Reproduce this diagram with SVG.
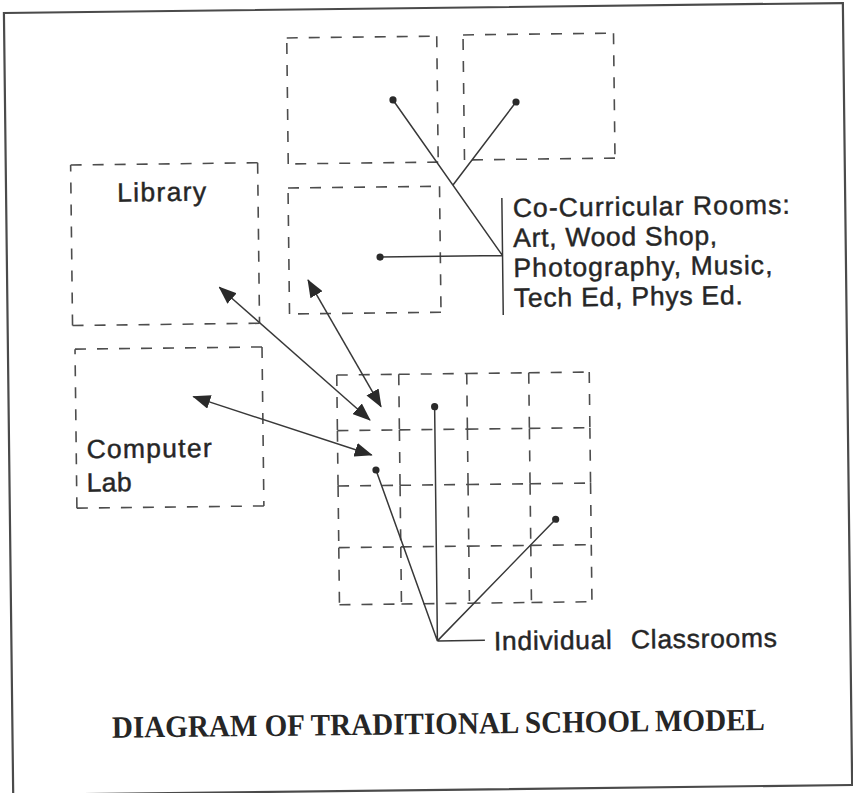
<svg xmlns="http://www.w3.org/2000/svg" width="853" height="793" viewBox="0 0 853 793">
  <defs>
    <style>
      .frame{fill:none;stroke:#4a4a4a;stroke-width:2.2}
      .room{fill:none;stroke:#4d4d4d;stroke-width:1.6;stroke-dasharray:11 11}
      .wire{fill:none;stroke:#383838;stroke-width:1.5}
      .dot{fill:#2a2a2a}
      .lbl{font-family:"Liberation Sans",Arial,sans-serif;font-size:26.5px;fill:#262626;stroke:#262626;stroke-width:0.45}
      .title{font-family:"Liberation Serif","Times New Roman",serif;font-size:31px;font-weight:bold;fill:#262626}
    </style>
    <marker id="head" markerUnits="userSpaceOnUse" markerWidth="18" markerHeight="14" refX="17" refY="7" orient="auto-start-reverse" viewBox="0 0 18 14">
      <path d="M0,0 L18,7 L0,14 z" fill="#2a2a2a"/>
    </marker>
  </defs>
  <rect width="853" height="793" fill="#fff"/>
  <g transform="rotate(-0.68 426 396)">
    <rect class="frame" x="8.5" y="8" width="839" height="782"/>

    <!-- co-curricular rooms -->
    <g id="cocurricular-room-1">
      <path class="room" d="M291 36.3H441M441 36.3V162.3M441 162.3H291M291 162.3V36.3"/>
    </g>
    <g id="cocurricular-room-2">
      <path class="room" d="M467.3 35.4H617.8M617.8 35.4V160.4M617.8 160.4H467.3M467.3 160.4V35.4"/>
    </g>
    <g id="cocurricular-room-3">
      <path class="room" d="M290.5 186.4H442M442 186.4V312.4M442 312.4H290.5M290.5 312.4V186.4"/>
    </g>

    <!-- library -->
    <g id="library">
      <path class="room" d="M73.4 160.8H260.4M260.4 160.8V321.3M260.4 321.3H73.4M73.4 321.3V160.8"/>
      <text class="lbl" x="119.6" y="198" textLength="89">Library</text>
    </g>

    <!-- computer lab -->
    <g id="computer-lab">
      <path class="room" d="M75.6 345H262.6M262.6 345V504M262.6 504H75.6M75.6 504V345"/>
      <text class="lbl" x="86" y="454.3" textLength="125">Computer</text>
      <text class="lbl" x="85.6" y="487.7" textLength="45">Lab</text>
    </g>

    <!-- individual classrooms: 4 x 4 grid -->
    <g id="classrooms">
      <path class="room" d="
        M337 374H399M399 374H467M467 374H529M529 374H589.5
        M337 429.6H399M399 429.6H467M467 429.6H529M529 429.6H589.5
        M337 485H399M399 485H467M467 485H529M529 485H589.5
        M337 546.6H399M399 546.6H467M467 546.6H529M529 546.6H589.5
        M337 603.7H399M399 603.7H467M467 603.7H529M529 603.7H589.5
        M337 374V429.6M337 429.6V485M337 485V546.6M337 546.6V603.7
        M399 374V429.6M399 429.6V485M399 485V546.6M399 546.6V603.7
        M467 374V429.6M467 429.6V485M467 485V546.6M467 546.6V603.7
        M529 374V429.6M529 429.6V485M529 485V546.6M529 546.6V603.7
        M589.5 374V429.6M589.5 429.6V485M589.5 485V546.6M589.5 546.6V603.7"/>
    </g>

    <!-- co-curricular caption -->
    <g id="cocurricular-label">
      <text class="lbl" x="515" y="218" textLength="277">Co-Curricular Rooms:</text>
      <text class="lbl" x="515" y="248" textLength="204">Art, Wood Shop,</text>
      <text class="lbl" x="515" y="278" textLength="259">Photography, Music,</text>
      <text class="lbl" x="515" y="308" textLength="229">Tech Ed, Phys Ed.</text>
    </g>

    <!-- classrooms caption -->
    <g id="classrooms-label">
      <text class="lbl" x="491" y="651" textLength="118">Individual</text>
      <text class="lbl" x="628" y="651" textLength="146">Classrooms</text>
    </g>

    <!-- connectors -->
    <g id="connectors">
      <path class="wire" d="M396.5 99.6L504.2 256.5M519.5 103.1L455.5 185.3M381.7 256.5H504.2M504.2 199V316"/>
      <circle class="dot" cx="396.5" cy="99.6" r="3.6"/>
      <circle class="dot" cx="519.5" cy="103.1" r="3.6"/>
      <circle class="dot" cx="381.7" cy="256.5" r="3.6"/>

      <path class="wire" d="M309.4 278.6L380.9 406.2" marker-start="url(#head)" marker-end="url(#head)"/>
      <path class="wire" d="M220.6 284.8L369.7 419.3" marker-start="url(#head)" marker-end="url(#head)"/>
      <path class="wire" d="M193.3 393.9L371 454.4" marker-start="url(#head)" marker-end="url(#head)"/>

      <path class="wire" d="M434.5 406.8V641M375.1 469.4L434.5 641M554.2 520.8L434.5 641M434.5 641H482"/>
      <circle class="dot" cx="434.5" cy="406.8" r="3.6"/>
      <circle class="dot" cx="375.1" cy="469.4" r="3.6"/>
      <circle class="dot" cx="554.2" cy="520.8" r="3.6"/>
    </g>

    <text class="title" x="108" y="734" textLength="653" lengthAdjust="spacingAndGlyphs">DIAGRAM OF TRADITIONAL SCHOOL MODEL</text>
  </g>
</svg>
